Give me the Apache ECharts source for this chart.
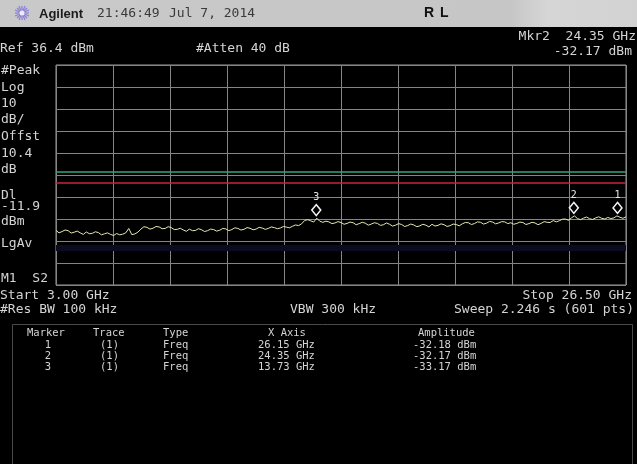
<!DOCTYPE html>
<html><head><meta charset="utf-8">
<script src="https://cdn.jsdelivr.net/npm/echarts@6/dist/echarts.min.js"></script>
<style>html,body{margin:0;padding:0;background:#000;}#c{width:637px;height:464px;}</style>
</head><body><div id="c"></div>
<script>
// Sweep frequencies (GHz) and trace levels (dBm)
const freqs = [
3.000,3.125,3.250,3.375,3.500,3.625,3.750,3.875,
4.000,4.125,4.250,4.375,4.500,4.625,4.750,4.875,
5.000,5.125,5.250,5.375,5.500,5.625,5.750,5.875,
6.000,6.125,6.250,6.375,6.500,6.625,6.750,6.875,
7.000,7.125,7.250,7.375,7.500,7.625,7.750,7.875,
8.000,8.125,8.250,8.375,8.500,8.625,8.750,8.875,
9.000,9.125,9.250,9.375,9.500,9.625,9.750,9.875,
10.000,10.125,10.250,10.375,10.500,10.625,10.750,10.875,
11.000,11.125,11.250,11.375,11.500,11.625,11.750,11.875,
12.000,12.125,12.250,12.375,12.500,12.625,12.750,12.875,
13.000,13.125,13.250,13.375,13.500,13.625,13.750,13.875,
14.000,14.125,14.250,14.375,14.500,14.625,14.750,14.875,
15.000,15.125,15.250,15.375,15.500,15.625,15.750,15.875,
16.000,16.125,16.250,16.375,16.500,16.625,16.750,16.875,
17.000,17.125,17.250,17.375,17.500,17.625,17.750,17.875,
18.000,18.125,18.250,18.375,18.500,18.625,18.750,18.875,
19.000,19.125,19.250,19.375,19.500,19.625,19.750,19.875,
20.000,20.125,20.250,20.375,20.500,20.625,20.750,20.875,
21.000,21.125,21.250,21.375,21.500,21.625,21.750,21.875,
22.000,22.125,22.250,22.375,22.500,22.625,22.750,22.875,
23.000,23.125,23.250,23.375,23.500,23.625,23.750,23.875,
24.000,24.125,24.250,24.375,24.500,24.625,24.750,24.875,
25.000,25.125,25.250,25.375,25.500,25.625,25.750,25.875,
26.000,26.125,26.250,26.375,26.500];
const levels = [
-38.8,-39.9,-39.3,-38.6,-38.9,-40.0,-39.6,-39.1,
-39.9,-40.6,-39.5,-40.3,-40.1,-39.4,-39.8,-40.8,
-40.3,-39.9,-40.6,-41.1,-40.2,-40.8,-40.5,-39.9,
-37.9,-40.7,-40.4,-39.6,-38.2,-37.1,-37.4,-38.2,
-37.8,-37.0,-37.2,-38.0,-37.9,-37.1,-37.5,-38.4,
-38.3,-37.8,-38.6,-39.2,-38.2,-38.9,-38.8,-38.0,
-38.5,-39.3,-38.9,-38.2,-38.4,-39.1,-38.7,-37.9,
-38.1,-38.9,-38.4,-37.6,-37.9,-38.6,-38.3,-37.5,
-37.8,-38.5,-38.2,-37.4,-37.7,-38.3,-37.9,-37.2,
-37.5,-38.0,-37.7,-37.0,-37.3,-37.6,-36.9,-36.3,
-36.6,-35.8,-34.3,-33.9,-34.4,-35.0,-33.2,-34.6,
-35.1,-34.6,-34.9,-35.7,-35.4,-34.8,-35.2,-36.0,
-35.6,-35.0,-35.3,-36.2,-35.7,-35.1,-35.5,-36.4,
-35.9,-35.3,-35.6,-36.5,-36.2,-35.4,-36.0,-36.8,
-36.4,-35.7,-36.1,-37.0,-36.6,-35.9,-36.3,-37.1,
-36.7,-36.0,-36.4,-37.2,-36.0,-36.8,-36.5,-35.8,
-36.2,-37.0,-36.6,-35.9,-36.1,-36.7,-35.8,-35.2,
-35.3,-36.1,-35.7,-34.9,-35.1,-35.9,-35.5,-34.7,
-35.0,-35.8,-35.4,-34.8,-34.9,-35.7,-35.3,-36.0,
-35.6,-35.0,-35.2,-36.1,-35.7,-35.1,-35.4,-36.2,
-35.6,-34.8,-35.1,-35.2,-34.3,-34.9,-34.4,-33.7,
-33.6,-34.2,-33.1,-32.2,-33.4,-33.9,-33.2,-32.7,
-33.5,-33.8,-33.1,-32.6,-33.3,-33.6,-32.9,-33.4,
-33.1,-32.2,-32.8,-33.3,-32.6];
// Markers
const markerIds = ['1','2','3'];
const markerTraces = ['(1)','(1)','(1)'];
const markerTypes = ['Freq','Freq','Freq'];
const markerFreqs = [26.15, 24.35, 13.73];
const markerAmps = [-32.18, -32.17, -33.17];
// Display / limit lines (dBm)
const displayLine = -11.9;
const limitLine = -17.0;
const avgBand = -46.8;
// Left annotation labels
const leftLabels = ['#Peak','Log','10','dB/','Offst','10.4','dB','Dl','-11.9','dBm','LgAv','M1  S2'];
const leftLabelY = [71,88,104,120,137,154,170,196,207,222,244,279];

const chart = echarts.init(document.getElementById('c'), null, {renderer:'canvas', width:637, height:464});
const MONO = '"DejaVu Sans Mono", monospace';
const TXT = '#d4d4d4';
function t(x,y,text,opt){
  return Object.assign({type:'text', x:x, y:y, silent:true,
    style:Object.assign({text:text, fill:TXT, font:'13px '+MONO, textVerticalAlign:'middle'}, opt||{})});
}
const graphics = [];
// top gray bar
graphics.push({type:'rect', shape:{x:0,y:0,width:637,height:27}, silent:true,
  style:{fill:new echarts.graphic.LinearGradient(0,0,1,0,[{offset:0,color:'#c9c9c9'},{offset:0.8,color:'#c6c6c6'},{offset:0.86,color:'#d6d6d6'},{offset:1,color:'#d2d2d2'}])}});
// spark logo
[[0,-7,0,7],[-7,0,7,0],[-5,-5,5,5],[-5,5,5,-5],[-3,-7,3,7],[-7,-3,7,3],[3,-7,-3,7],[-7,3,7,-3]].forEach(s=>{
  graphics.push({type:'line', silent:true, shape:{x1:22+s[0],y1:13+s[1],x2:22+s[2],y2:13+s[3]}, style:{stroke:'#8a7fd8', lineWidth:1.2}});
});
graphics.push({type:'circle', silent:true, shape:{cx:22,cy:13,r:2.5}, style:{fill:'#f0e8ff'}});
graphics.push(t(39,14,'Agilent',{fill:'#1a1a1a', font:'bold 13px "Liberation Sans", Arial'}));
graphics.push(t(97,14,'21:46:49',{fill:'#3a3a3a', font:'13px '+MONO}));
graphics.push(t(169,14,'Jul 7, 2014',{fill:'#3a3a3a', font:'13px '+MONO}));
graphics.push(t(424,13,'R',{fill:'#111', font:'bold 14px "Liberation Sans", Arial'}));
graphics.push(t(440,13,'L',{fill:'#111', font:'bold 14px "Liberation Sans", Arial'}));
// header texts
graphics.push(t(0,49,'Ref 36.4 dBm'));
graphics.push(t(196,49,'#Atten 40 dB'));
graphics.push(t(636,37,'Mkr2  24.35 GHz',{textAlign:'right'}));
graphics.push(t(632,52,'-32.17 dBm',{textAlign:'right'}));
leftLabels.forEach((s,i)=>graphics.push(t(1,leftLabelY[i],s)));
graphics.push(t(0,296,'Start 3.00 GHz'));
graphics.push(t(632,296,'Stop 26.50 GHz',{textAlign:'right'}));
graphics.push(t(0,310,'#Res BW 100 kHz'));
graphics.push(t(290,310,'VBW 300 kHz'));
graphics.push(t(634,310,'Sweep 2.246 s (601 pts)',{textAlign:'right'}));
// marker table
graphics.push({type:'rect', silent:true, shape:{x:12.5,y:324.5,width:620,height:145}, style:{fill:'none', stroke:'#4a4a4a', lineWidth:1}});
const TF = '10.5px '+MONO;
graphics.push(t(27,333,'Marker',{font:TF}));
graphics.push(t(93,333,'Trace',{font:TF}));
graphics.push(t(163,333,'Type',{font:TF}));
graphics.push(t(268,333,'X Axis',{font:TF}));
graphics.push(t(418,333,'Amplitude',{font:TF}));
markerIds.forEach((m,i)=>{
  const y = 345 + i*11;
  graphics.push(t(48,y,m,{font:TF, textAlign:'center'}));
  graphics.push(t(100,y,markerTraces[i],{font:TF}));
  graphics.push(t(163,y,markerTypes[i],{font:TF}));
  graphics.push(t(258,y,markerFreqs[i].toFixed(2)+' GHz',{font:TF}));
  graphics.push(t(413,y,markerAmps[i].toFixed(2)+' dBm',{font:TF}));
});

const trace = freqs.map((f,i)=>[f, levels[i]]);
const gridLine = {show:true, lineStyle:{color:'#858585', width:1}};
chart.setOption({
  backgroundColor:'#000',
  animation:false,
  grid:{left:56, top:65, width:570, height:220, show:true, borderColor:'#9a9a9a', borderWidth:1},
  xAxis:[
    {type:'value', min:0, max:10, interval:1, axisLabel:{show:false}, axisTick:{show:false}, axisLine:{show:false}, splitLine:gridLine},
    {type:'value', min:3, max:26.5, show:false}
  ],
  yAxis:[
    {type:'value', min:0, max:10, interval:1, axisLabel:{show:false}, axisTick:{show:false}, axisLine:{show:false}, splitLine:gridLine},
    {type:'value', min:-63.6, max:36.4, show:false}
  ],
  series:[{
    type:'line', xAxisIndex:1, yAxisIndex:1, data:trace, showSymbol:false, silent:true,
    lineStyle:{color:'#e8e8b0', width:1},
    markLine:{silent:true, symbol:'none', label:{show:false},
      data:[
        {yAxis:avgBand, lineStyle:{color:'#0a0a20', opacity:1, width:6, type:'solid'}},
        {yAxis:displayLine, lineStyle:{color:'#35a37a', width:1.5, type:'solid'}},
        {yAxis:limitLine, lineStyle:{color:'#c8243c', width:1.5, type:'solid'}}
      ]},
    markPoint:{silent:true, symbol:'diamond', symbolSize:[9,11], symbolOffset:[0,-8],
      itemStyle:{color:'#000', borderColor:'#f4f4f4', borderWidth:1.5},
      label:{show:true, position:'top', distance:1, color:'#e8e8e8', fontSize:10, fontFamily:MONO, formatter:p=>p.name},
      data:markerIds.map((m,i)=>({name:m, coord:[markerFreqs[i], markerAmps[i]]}))
    }
  }],
  graphic:graphics
});
</script></body></html>
